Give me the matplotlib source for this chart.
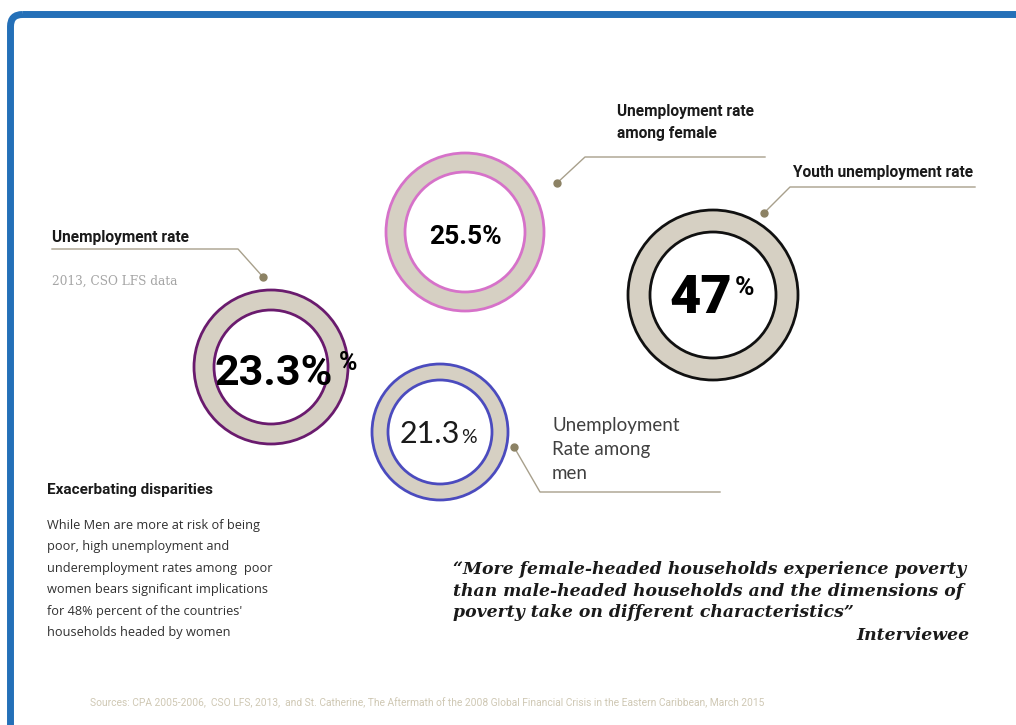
import matplotlib.pyplot as plt
from matplotlib.patches import Circle, Wedge, FancyBboxPatch

# ring data
nombres = ["Unemployment rate", "Unemployment rate\namong female",
           "Youth unemployment rate", "Unemployment\nRate among\nmen"]
valores = [23.3, 25.5, 47, 21.3]
colores = ["#6A1B6E", "#D672C9", "#111111", "#4B4BBE"]

# layout of each ring (px): centre, outer and inner radius
centros = [(271, 367), (465, 232), (713, 295), (440, 432)]
radios = [(77, 57), (79, 60), (85, 63), (68, 52)]

RELLENO = "#D6D0C3"
GUIA = "#A8A08C"
PUNTO = "#8C8264"

fig = plt.figure(figsize=(10.16, 7.25), dpi=100)
ax = fig.add_axes([0, 0, 1, 1])
ax.set_xlim(0, 1016)
ax.set_ylim(725, 0)
ax.axis('off')

# blue frame
ax.add_patch(FancyBboxPatch((10.5, 14.5), 1100, 800,
                            boxstyle="round,pad=0,rounding_size=12",
                            fill=False, ec="#2470B8", lw=5.0))

# rings
for (cx, cy), (ro, ri), col in zip(centros, radios, colores):
    ax.add_patch(Wedge((cx, cy), ro, 0, 360, width=ro - ri, fc=RELLENO, ec='none'))
    ax.add_patch(Circle((cx, cy), ro, fill=False, ec=col, lw=2.0))
    ax.add_patch(Circle((cx, cy), ri, fill=False, ec=col, lw=2.0))

# value labels
v = valores
ax.text(274, 373, f"{v[0]}%", ha='center', va='center', fontsize=31,
        fontweight='bold', family='Roboto', color='black')
ax.text(348, 363, "%", ha='center', va='center', fontsize=18,
        fontweight='bold', family='Roboto', color='black')
ax.text(465, 237, f"{v[1]}%", ha='center', va='center', fontsize=19,
        fontweight='bold', family='Roboto', color='black')
ax.text(701, 298, f"{v[2]}", ha='center', va='center', fontsize=39,
        fontweight='heavy', family='Roboto', color='black')
ax.text(745, 288, "%", ha='center', va='center', fontsize=19,
        fontweight='bold', family='Roboto', color='black')
ax.text(460, 443, f"{v[3]}", ha='right', va='baseline', fontsize=22,
        family='Lato', color='#1A1A1A')
ax.text(461, 443, "%", ha='left', va='baseline', fontsize=14,
        family='Lato', color='#1A1A1A')

# leader lines with dots
guias = [
    [(263, 277), (238, 249), (52, 249)],
    [(557, 183), (585, 157), (765, 157)],
    [(764, 213), (790, 187), (975, 187)],
    [(514, 447), (540, 492), (720, 492)],
]
for g in guias:
    xs = [p[0] for p in g]
    ys = [p[1] for p in g]
    ax.plot(xs, ys, color=GUIA, lw=1.0)
    ax.plot(xs[0], ys[0], 'o', color=PUNTO, ms=5)

etiq = dict(fontweight='bold', family='Roboto', fontsize=11.2,
            color='#1A1A1A', va='center', ha='left')
ax.text(52, 237, nombres[0], **etiq)
ax.text(617, 122.5, nombres[1], linespacing=1.6, **etiq)
ax.text(793, 172, nombres[2], **etiq)
ax.text(552, 449, nombres[3], ha='left', va='center', family='Lato',
        fontsize=13.5, color='#404040', linespacing=1.5)

ax.text(52, 281, "2013, CSO LFS data", ha='left', va='center',
        family='DejaVu Serif', fontsize=8.7, color='#A5A5A5')

# side note
ax.text(47, 490, "Exacerbating disparities", ha='left', va='center',
        fontweight='bold', family='Roboto', fontsize=11,
        color='#1A1A1A')
nota = ("While Men are more at risk of being\n"
        "poor, high unemployment and\n"
        "underemployment rates among  poor\n"
        "women bears significant implications\n"
        "for 48% percent of the countries'\n"
        "households headed by women")
ax.text(47, 579, nota, ha='left', va='center', family='Open Sans',
        fontsize=9.2, color='#303030', linespacing=1.85)

# quote
cita = ("\u201cMore female-headed households experience poverty\n"
        "than male-headed households and the dimensions of\n"
        "poverty take on different characteristics\u201d")
ax.text(453, 591, cita, ha='left', va='center', family='DejaVu Serif',
        fontweight='bold', style='italic', fontsize=12.4, color='#1A1A1A',
        linespacing=1.33)
ax.text(970, 635, "Interviewee", ha='right', va='center', family='DejaVu Serif',
        fontweight='bold', style='italic', fontsize=12.4, color='#1A1A1A')

ax.text(90, 703, "Sources: CPA 2005-2006,  CSO LFS, 2013,  and St. Catherine, The Aftermath of "
        "the 2008 Global Financial Crisis in the Eastern Caribbean, March 2015",
        ha='left', va='center', family='Roboto', fontsize=7.35,
        color='#CFC8B4')

fig.savefig("out.png", dpi=100)
